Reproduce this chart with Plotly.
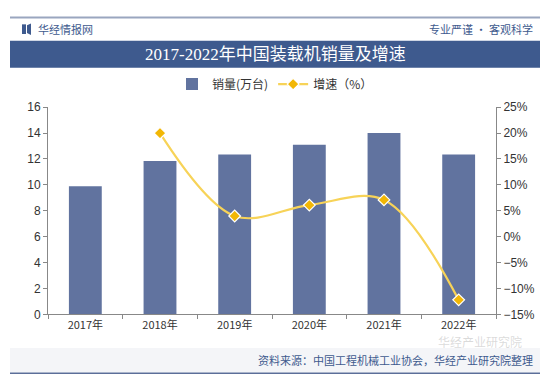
import plotly.graph_objects as go

years = ["2017年", "2018年", "2019年", "2020年", "2021年", "2022年"]
sales = [9.9, 11.85, 12.35, 13.1, 14.0, 12.35]
growth_years = ["2018年", "2019年", "2020年", "2021年", "2022年"]
growth = [20.0, 4.0, 6.1, 7.1, -12.2]

W, H = 550, 384
def px(x): return x / W
def py(y): return 1 - y / H

fig = go.Figure()
fig.add_trace(go.Bar(
    x=years, y=sales, name="销量(万台)",
    marker=dict(color="#61739F", line=dict(width=0)),
    width=0.44, yaxis="y",
))
fig.add_trace(go.Scatter(
    x=growth_years, y=growth, name="增速（%）", yaxis="y2",
    mode="lines+markers",
    line=dict(color="#F7D358", width=2.2, shape="spline", smoothing=1.0),
    marker=dict(symbol="diamond", size=9, color="#F2B705", line=dict(color="#FFFFFF", width=1.2)),
))

tickfont = dict(family="Liberation Sans, Arial, sans-serif", size=12, color="#333333")
fig.update_layout(
    width=W, height=H,
    margin=dict(l=0, r=0, t=0, b=0),
    paper_bgcolor="white", plot_bgcolor="rgba(0,0,0,0)",
    showlegend=True,
    legend=dict(orientation="h", x=0.5, xanchor="center", y=py(80), yanchor="middle",
                font=dict(family="Noto Sans CJK SC", size=12, color="#333333"),
                bgcolor="rgba(0,0,0,0)", itemwidth=30, tracegroupgap=0),
    xaxis=dict(domain=[px(48), px(496)], anchor="y",
               showline=True, linecolor="#888888", linewidth=1,
               ticks="outside", tickson="boundaries", ticklen=4, tickcolor="#888888",
               tickfont=dict(family="Noto Sans CJK SC", size=11, color="#333333"),
               showgrid=False, fixedrange=True),
    yaxis=dict(domain=[py(319), py(104)], range=[0, 16], dtick=2,
               showline=True, linecolor="#888888", linewidth=1,
               ticks="outside", ticklen=4, tickcolor="#888888",
               tickfont=tickfont, showgrid=False, zeroline=False),
    yaxis2=dict(overlaying="y", side="right", anchor="x", range=[-15, 25], dtick=5,
                ticksuffix="%", showline=True, linecolor="#888888", linewidth=1,
                ticks="outside", ticklen=4, tickcolor="#888888",
                tickfont=tickfont, showgrid=False, zeroline=False),
    font=dict(family="Noto Sans CJK SC"),
)

shapes = [
    dict(type="line", xref="paper", yref="paper", x0=px(10), x1=px(540), y0=py(11), y1=py(11),
         line=dict(color="#9AA6BF", width=2)),
    dict(type="rect", xref="paper", yref="paper", x0=px(10), x1=px(540), y0=py(63), y1=py(35),
         fillcolor="#3E5A8E", line=dict(width=0), layer="below"),
    dict(type="rect", xref="paper", yref="paper", x0=px(10), x1=px(540), y0=py(379), y1=py(354),
         fillcolor="#F4F5F8", line=dict(width=0), layer="below"),
    dict(type="line", xref="paper", yref="paper", x0=px(10), x1=px(540), y0=py(380), y1=py(380),
         line=dict(color="#5B6E99", width=1.5)),
    dict(type="rect", xref="paper", yref="paper", x0=px(22), x1=px(26), y0=py(28), y1=py(18),
         fillcolor="#3E5A8E", line=dict(width=0)),
    dict(type="path", xref="paper", yref="paper",
         path=f"M {px(27)} {py(19)} L {px(31)} {py(17)} L {px(31)} {py(29)} L {px(27)} {py(27)} Z",
         fillcolor="#3E5A8E", line=dict(width=0)),
]
fig.update_layout(shapes=shapes)

annotations = [
    dict(text="2017-2022年中国装载机销量及增速", xref="paper", yref="paper",
         x=0.5, y=py(49), xanchor="center", yanchor="middle", showarrow=False,
         font=dict(family="Liberation Serif, Noto Sans CJK SC", size=17, color="white")),
    dict(text="华经情报网", xref="paper", yref="paper", x=px(36), y=py(23),
         xanchor="left", yanchor="middle", showarrow=False,
         font=dict(family="Noto Sans CJK SC", size=11, color="#3E5A8E")),
    dict(text="专业严谨 • 客观科学", xref="paper", yref="paper", x=px(535), y=py(23),
         xanchor="right", yanchor="middle", showarrow=False,
         font=dict(family="Noto Sans CJK SC", size=11, color="#3E5A8E")),
    dict(text="资料来源：中国工程机械工业协会，华经产业研究院整理", xref="paper", yref="paper",
         x=px(535), y=py(366), xanchor="right", yanchor="middle", showarrow=False,
         font=dict(family="Noto Sans CJK SC", size=11, color="#3E5A8E")),
    dict(text="华经产业研究院", xref="paper", yref="paper", x=px(480), y=py(347),
         xanchor="center", yanchor="middle", showarrow=False,
         font=dict(family="Noto Sans CJK SC", size=12, color="rgba(150,150,150,0.35)")),
]
fig.update_layout(annotations=annotations)

fig.write_html("out.html", config={"displayModeBar": False, "staticPlot": True},
               post_script="document.body.style.margin='0';document.body.style.overflow='hidden';")
